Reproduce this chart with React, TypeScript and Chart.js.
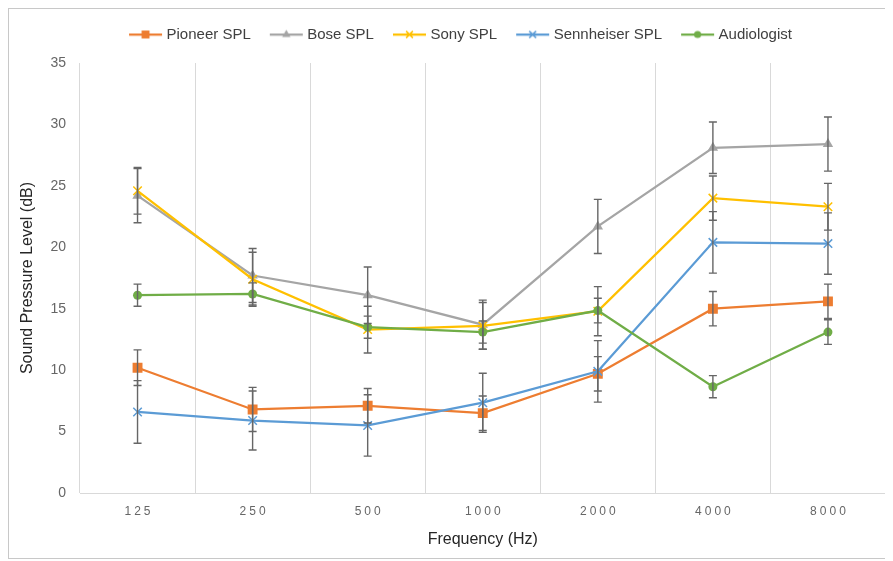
import React, { useEffect, useRef } from "react";
import { Chart, registerables } from "chart.js";

Chart.register(...registerables);

const frequencies = ["125", "250", "500", "1000", "2000", "4000", "8000"];
const seriesNames = ["Pioneer SPL", "Bose SPL", "Sony SPL", "Sennheiser SPL", "Audiologist"];

const pioneerSPL = [10.2, 6.8, 7.1, 6.5, 9.7, 15.0, 15.6];
const pioneerErr = [1.45, 1.8, 1.4, 1.4, 1.4, 1.4, 1.4];
const boseSPL = [24.2, 17.7, 16.1, 13.7, 21.7, 28.1, 28.4];
const boseErr = [2.2, 2.2, 2.3, 2.0, 2.2, 2.1, 2.2];
const sonySPL = [24.6, 17.4, 13.3, 13.6, 14.8, 24.0, 23.3];
const sonyErr = [1.9, 2.2, 1.9, 1.9, 2.0, 1.8, 1.9];
const sennheiserSPL = [6.6, 5.9, 5.5, 7.35, 9.9, 20.4, 20.3];
const sennheiserErr = [2.55, 2.4, 2.5, 2.4, 2.5, 2.5, 2.5];
const audiologistSPL = [16.1, 16.2, 13.5, 13.1, 14.85, 8.65, 13.1];
const audiologistErr = [0.9, 0.9, 0.9, 0.9, 1.0, 0.9, 1.0];

const yMin = 0;
const yMax = 35;
const yStep = 5;

const colors = ["#ED7D31", "#A5A5A5", "#FFC000", "#5B9BD5", "#70AD47"];
const markers = ["rect", "triangle", "crossRot", "crossRot", "circle"];
const markerRadius = [7, 6, 6, 6, 4.5];

const FONT = "'Liberation Sans', Arial, sans-serif";

function drawMarker(ctx: CanvasRenderingContext2D, style: string, x: number, y: number, r: number, color: string) {
  ctx.fillStyle = color;
  ctx.strokeStyle = color;
  ctx.lineWidth = 1.5;
  ctx.beginPath();
  if (style === "rect") {
    const s = Math.SQRT1_2 * r;
    ctx.rect(x - s, y - s, 2 * s, 2 * s);
    ctx.fill();
  } else if (style === "triangle") {
    const h = r * 1.5;
    ctx.moveTo(x, y - r);
    ctx.lineTo(x + h / Math.sqrt(3), y + r / 2);
    ctx.lineTo(x - h / Math.sqrt(3), y + r / 2);
    ctx.closePath();
    ctx.fill();
  } else if (style === "crossRot") {
    const d = r * Math.SQRT1_2;
    ctx.moveTo(x - d, y - d);
    ctx.lineTo(x + d, y + d);
    ctx.moveTo(x + d, y - d);
    ctx.lineTo(x - d, y + d);
    ctx.stroke();
  } else {
    ctx.arc(x, y, r, 0, Math.PI * 2);
    ctx.fill();
  }
}

// icon canvas is wider than the legend box so the drawn line sits closer to the label
function makeLegendIcon(i: number): HTMLCanvasElement {
  const c = document.createElement("canvas");
  c.width = 44;
  c.height = 14;
  const ctx = c.getContext("2d")!;
  ctx.strokeStyle = colors[i];
  ctx.lineWidth = 2.25;
  ctx.beginPath();
  ctx.moveTo(7, 7);
  ctx.lineTo(40, 7);
  ctx.stroke();
  drawMarker(ctx, markers[i], 23.5, 7, markerRadius[i] * 0.8, colors[i]);
  return c;
}

const seriesValues = [pioneerSPL, boseSPL, sonySPL, sennheiserSPL, audiologistSPL];
const seriesErrors = [pioneerErr, boseErr, sonyErr, sennheiserErr, audiologistErr];

export default function App() {
  const ref = useRef<HTMLCanvasElement | null>(null);

  useEffect(() => {
    if (!ref.current) return;
    const icons = seriesNames.map((_, i) => makeLegendIcon(i));

    const errorBars = {
      id: "errorBars",
      afterDatasetsDraw(chart: any) {
        const ctx = chart.ctx as CanvasRenderingContext2D;
        const ys = chart.scales.y;
        ctx.save();
        ctx.strokeStyle = "#666666";
        ctx.lineWidth = 1.4;
        chart.data.datasets.forEach((ds: any, di: number) => {
          const meta = chart.getDatasetMeta(di);
          const errs = seriesErrors[di];
          meta.data.forEach((pt: any, i: number) => {
            const v = ds.data[i];
            const e = errs[i];
            const yTop = ys.getPixelForValue(v + e);
            const yBot = ys.getPixelForValue(v - e);
            const x = pt.x;
            ctx.beginPath();
            ctx.moveTo(x, yTop);
            ctx.lineTo(x, yBot);
            ctx.moveTo(x - 4, yTop);
            ctx.lineTo(x + 4, yTop);
            ctx.moveTo(x - 4, yBot);
            ctx.lineTo(x + 4, yBot);
            ctx.stroke();
          });
        });
        ctx.restore();
      },
    };

    const xLabels = {
      id: "xLabels",
      afterDraw(chart: any) {
        const ctx = chart.ctx as any;
        const xs = chart.scales.x;
        ctx.save();
        ctx.font = `12px ${FONT}`;
        ctx.fillStyle = "#666666";
        ctx.textAlign = "center";
        ctx.textBaseline = "middle";
        ctx.letterSpacing = "3px";
        frequencies.forEach((f, i) => {
          const x = xs.getPixelForTick(i);
          ctx.fillText(f, x + 1.5, xs.top + 19);
        });
        ctx.restore();
      },
    };

    const legendFit = {
      id: "legendFit",
      beforeInit(chart: any) {
        const legend = chart.legend;
        if (!legend) return;
        const origFit = legend.fit;
        legend.fit = function () {
          origFit.call(this);
          this.height = 52;
        };
        const origDraw = legend.draw;
        legend.draw = function (...args: any[]) {
          const ctx = chart.ctx;
          ctx.save();
          ctx.translate(8, -3);
          origDraw.apply(this, args);
          ctx.restore();
        };
      },
    };

    const chart = new Chart(ref.current, {
      type: "line",
      data: {
        labels: frequencies,
        datasets: seriesNames.map((name, i) => ({
          label: name,
          data: seriesValues[i],
          borderColor: colors[i],
          backgroundColor: colors[i],
          borderWidth: 2.25,
          pointStyle: markers[i] as any,
          pointRadius: markerRadius[i],
          pointBorderWidth: markers[i] === "crossRot" ? 1.5 : 0,
          pointBorderColor: colors[i],
          pointBackgroundColor: colors[i],
          tension: 0,
          fill: false,
          order: 5 - i,
        })),
      },
      options: {
        responsive: false,
        maintainAspectRatio: false,
        animation: false,
        layout: { padding: { top: 2, left: 9, right: 6, bottom: 9 } },
        plugins: {
          tooltip: { enabled: false },
          legend: {
            position: "top",
            labels: {
              usePointStyle: true,
              pointStyleWidth: 30,
              padding: 19,
              color: "#404040",
              font: { family: FONT, size: 15 },
              sort: (a: any, b: any) => a.datasetIndex - b.datasetIndex,
              generateLabels: (ch: any) => {
                const items = (Chart.defaults.plugins.legend.labels.generateLabels as any)(ch);
                return items.map((it: any) => ({ ...it, pointStyle: icons[it.datasetIndex] }));
              },
            },
          },
        },
        scales: {
          x: {
            type: "category",
            offset: true,
            grid: { display: true, offset: true, color: "#d9d9d9", lineWidth: 1, drawTicks: false },
            border: { display: true, color: "#d9d9d9" },
            ticks: { display: false },
            title: {
              display: true,
              text: "Frequency (Hz)",
              color: "#262626",
              font: { family: FONT, size: 16 },
              padding: { top: 0, bottom: 0 },
            },
            afterFit: (s: any) => {
              s.height = 56;
            },
          },
          y: {
            min: yMin,
            max: yMax,
            grid: { display: false, drawTicks: false },
            border: { display: false },
            ticks: {
              stepSize: yStep,
              padding: 14,
              color: "#666666",
              font: { family: FONT, size: 14 },
            },
            title: {
              display: true,
              text: "Sound Pressure Level (dB)",
              color: "#262626",
              font: { family: FONT, size: 16 },
              padding: { top: 0, bottom: 0 },
            },
            afterFit: (s: any) => {
              s.width = 62;
            },
          },
        },
      },
      plugins: [legendFit, errorBars, xLabels],
    });

    return () => chart.destroy();
  }, []);

  return (
    <div
      style={{
        width: 885,
        height: 551,
        border: "1px solid #c8c8c8",
        borderRight: "none",
        boxSizing: "border-box",
        position: "relative",
        background: "#fff",
      }}
    >
      <canvas ref={ref} width={884} height={549} style={{ display: "block", width: 884, height: 549 }} />
    </div>
  );
}
